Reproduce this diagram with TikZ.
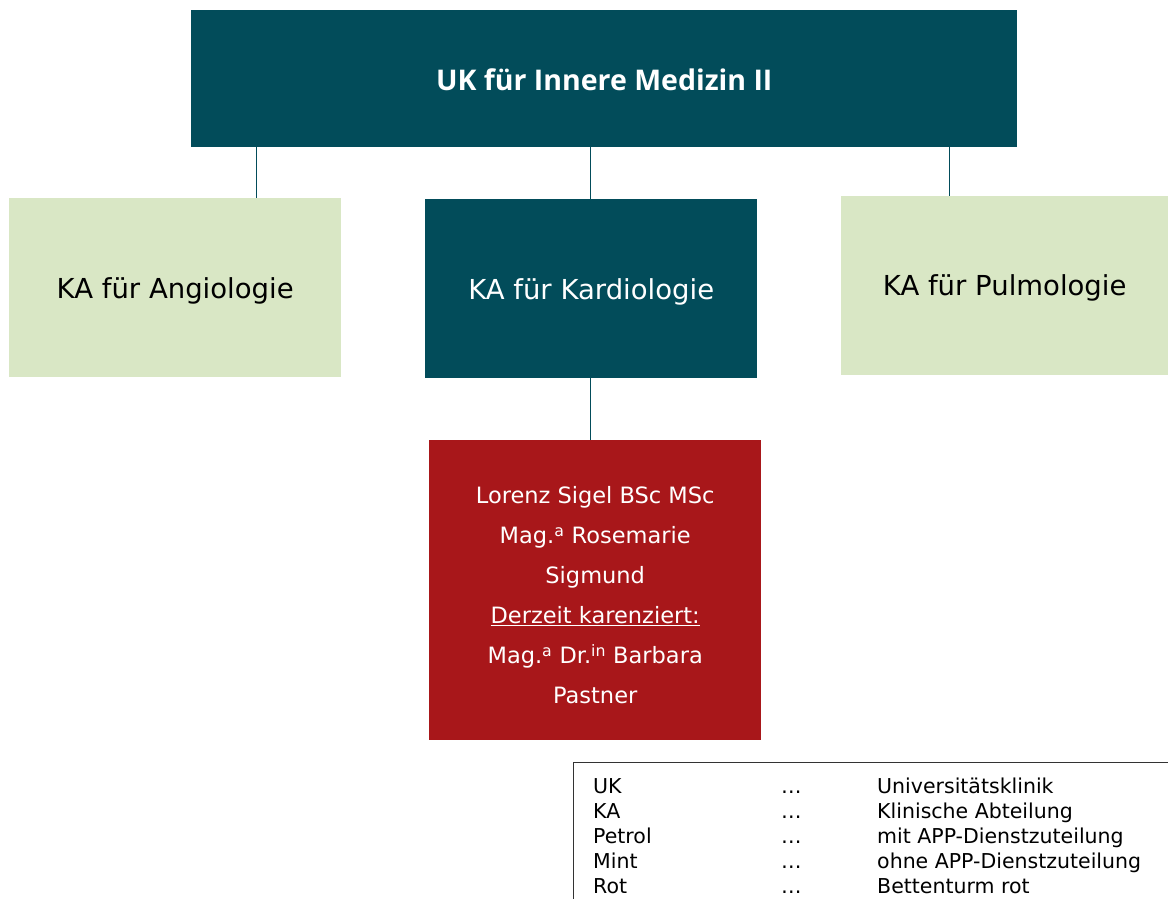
\documentclass[tikz,border=0pt]{standalone}
\usepackage{fontspec}
\setmainfont{DejaVu Sans}
\newfontfamily\titlefont{Open Sans}
\definecolor{petrol}{HTML}{024C5A}
\definecolor{mint}{HTML}{D9E7C5}
\definecolor{rot}{HTML}{A8171A}
\begin{document}
\begin{tikzpicture}[x=1pt,y=-1pt,
  box/.style={rectangle,inner sep=0pt,anchor=north west},
  lbl/.style={font=\fontsize{27.5}{32}\selectfont},
  conn/.style={draw=petrol,line width=0.8pt},
  leg/.style={anchor=base west,inner sep=0pt,font=\fontsize{20.5}{22}\selectfont}]
\useasboundingbox (0,0) rectangle (1168,899);
% boxes
\node[box,fill=petrol,minimum width=826,minimum height=137] (top) at (191,10) {};
\node[text=white,font=\titlefont\bfseries\fontsize{28.5}{32}\selectfont] at ([yshift=-1]top.center) {UK für Innere Medizin II};
\node[box,fill=mint,minimum width=332,minimum height=179] (ang) at (9,198) {};
\node[lbl] at ([yshift=-3]ang.center) {KA für Angiologie};
\node[box,fill=petrol,minimum width=332,minimum height=179] (kar) at (425,199) {};
\node[lbl,text=white] at ([yshift=-3]kar.center) {KA für Kardiologie};
\node[box,fill=mint,minimum width=327,minimum height=179] (pul) at (841,196) {};
\node[lbl] at ([yshift=-2]pul.center) {KA für Pulmologie};
\node[box,fill=rot,minimum width=332,minimum height=300] (red) at (429,440) {};
\node[text=white,align=center,font=\fontsize{22.5}{40}\selectfont] at ([yshift=-5]red.center)
  {Lorenz Sigel BSc MSc\\Mag.\textsuperscript{a} Rosemarie\\Sigmund\\\underline{Derzeit karenziert:}\\Mag.\textsuperscript{a} Dr.\textsuperscript{in} Barbara\\Pastner};
% connectors
\coordinate (c1a) at (256,147); \coordinate (c1b) at (256,198);
\coordinate (c2a) at (590,147); \coordinate (c2b) at (590,199);
\coordinate (c3a) at (949,147); \coordinate (c3b) at (949,196);
\coordinate (c4a) at (590,378); \coordinate (c4b) at (590,440);
\draw[conn] (c1a) -- (c1b);
\draw[conn] (c2a) -- (c2b);
\draw[conn] (c3a) -- (c3b);
\draw[conn] (c4a) -- (c4b);
% legend
\draw[line width=0.8pt,draw=black!80] (573,762) rectangle (1190,920);
\foreach \a/\b/\y [count=\i] in {UK/Universitätsklinik/793,KA/Klinische Abteilung/818,Petrol/mit APP-Dienstzuteilung/843,Mint/ohne APP-Dienstzuteilung/868,Rot/Bettenturm rot/893}{
  \node[leg] (la\i) at (593,\y) {\a};
  \node[leg] (lb\i) at (781,\y) {…};
  \node[leg] (lc\i) at (877,\y) {\b};
}
\end{tikzpicture}
\end{document}
